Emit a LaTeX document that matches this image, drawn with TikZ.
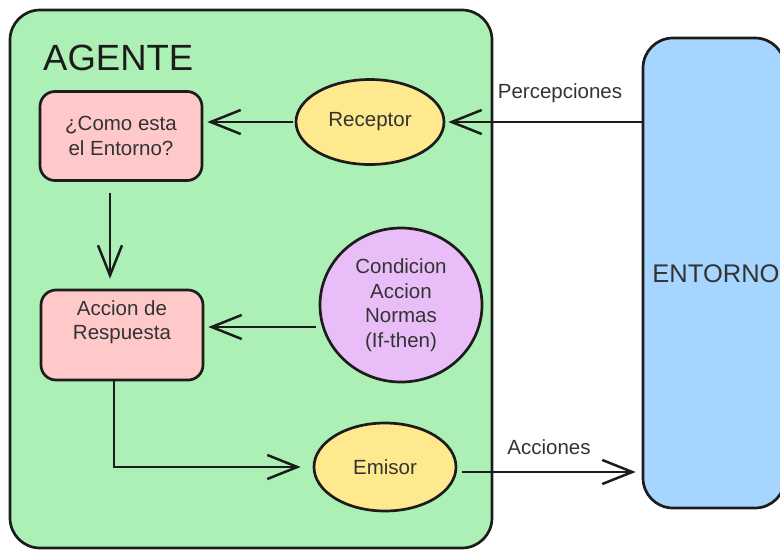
\documentclass[tikz,border=0pt]{standalone}
\usepackage{fontspec}
\setmainfont{Liberation Sans}
\usetikzlibrary{arrows.meta,shapes.geometric,calc}
\definecolor{agentgreen}{RGB}{173,240,182}
\definecolor{boxpink}{RGB}{255,201,201}
\definecolor{nodeyellow}{RGB}{255,233,143}
\definecolor{nodepurple}{RGB}{233,190,248}
\definecolor{envblue}{RGB}{166,214,255}
\definecolor{inkline}{RGB}{28,28,28}
\definecolor{inktext}{RGB}{51,51,51}
\begin{document}
\begin{tikzpicture}[x=1pt,y=-1pt,
  every node/.style={text=inktext, font=\fontsize{20.5}{24.5}\selectfont, align=center, inner sep=0pt},
  outline/.style={draw=inkline, line width=2.7pt},
  bigbox/.style={outline, rectangle, rounded corners=30pt},
  pinkbox/.style={outline, rectangle, rounded corners=15pt, fill=boxpink, minimum width=162pt, minimum height=89pt},
  oval/.style={outline, ellipse},
  arr/.style={draw=inkline, line width=2.7pt, -{Straight Barb[length=30pt,width=24pt,line width=2.5pt]}}
]
\useasboundingbox (0,0) rectangle (780,550);
\clip (0,0) rectangle (780,550);

% containers
\node[bigbox, fill=agentgreen, minimum width=482pt, minimum height=538pt] (agent) at (251,279) {};
\node[anchor=base west, font=\fontsize{36.5}{40}\selectfont, text=inkline] (agentlabel) at (43,70) {AGENTE};

\node[bigbox, fill=envblue, minimum width=142pt, minimum height=470pt] (entorno) at (714,273) {};
\node[font=\fontsize{25.5}{28}\selectfont] (entornolabel) at (716,274) {ENTORNO};

% inner nodes
\node[pinkbox] (box1) at (121,136) {¿Como esta\\el Entorno?};
\node[pinkbox, minimum height=90pt] (box2) at (122,335) {};
\node (box2text) at (122,322) {Accion de\\Respuesta};

\node[oval, fill=nodeyellow, minimum width=148pt, minimum height=85pt] (receptor) at (370,122) {Receptor};
\node[oval, fill=nodepurple, minimum width=162pt, minimum height=154pt] (cond) at (401,305) {Condicion\\Accion\\Normas\\(If-then)};
\node[oval, fill=nodeyellow, minimum width=142pt, minimum height=88pt] (emisor) at (385,467) {Emisor};

% connectors
\draw[arr, shorten >=3pt] (receptor.east -| entorno.west) -- (receptor.east);
\draw[arr, shorten <=2pt, shorten >=4pt] (receptor.west) -- (receptor.west -| box1.east);
\draw[arr, shorten <=11pt, shorten >=10pt] ([xshift=-11pt]box1.south) -- ([xshift=-11pt]box1.south |- box2.north);
\draw[arr, shorten <=3pt, shorten >=4pt] ([yshift=-22pt]cond.west) -- ([yshift=-22pt]cond.west -| box2.east);
\draw[arr, shorten >=12pt] ([xshift=-8pt]box2.south) |- (emisor.west);
\draw[arr, shorten <=5pt, shorten >=6pt] ([yshift=-5pt]emisor.east) -- ([yshift=-5pt]emisor.east -| entorno.west);

% labels
\node (perc) at (560,93) {Percepciones};
\node (acc) at (549,447) {Acciones};
\end{tikzpicture}
\end{document}
